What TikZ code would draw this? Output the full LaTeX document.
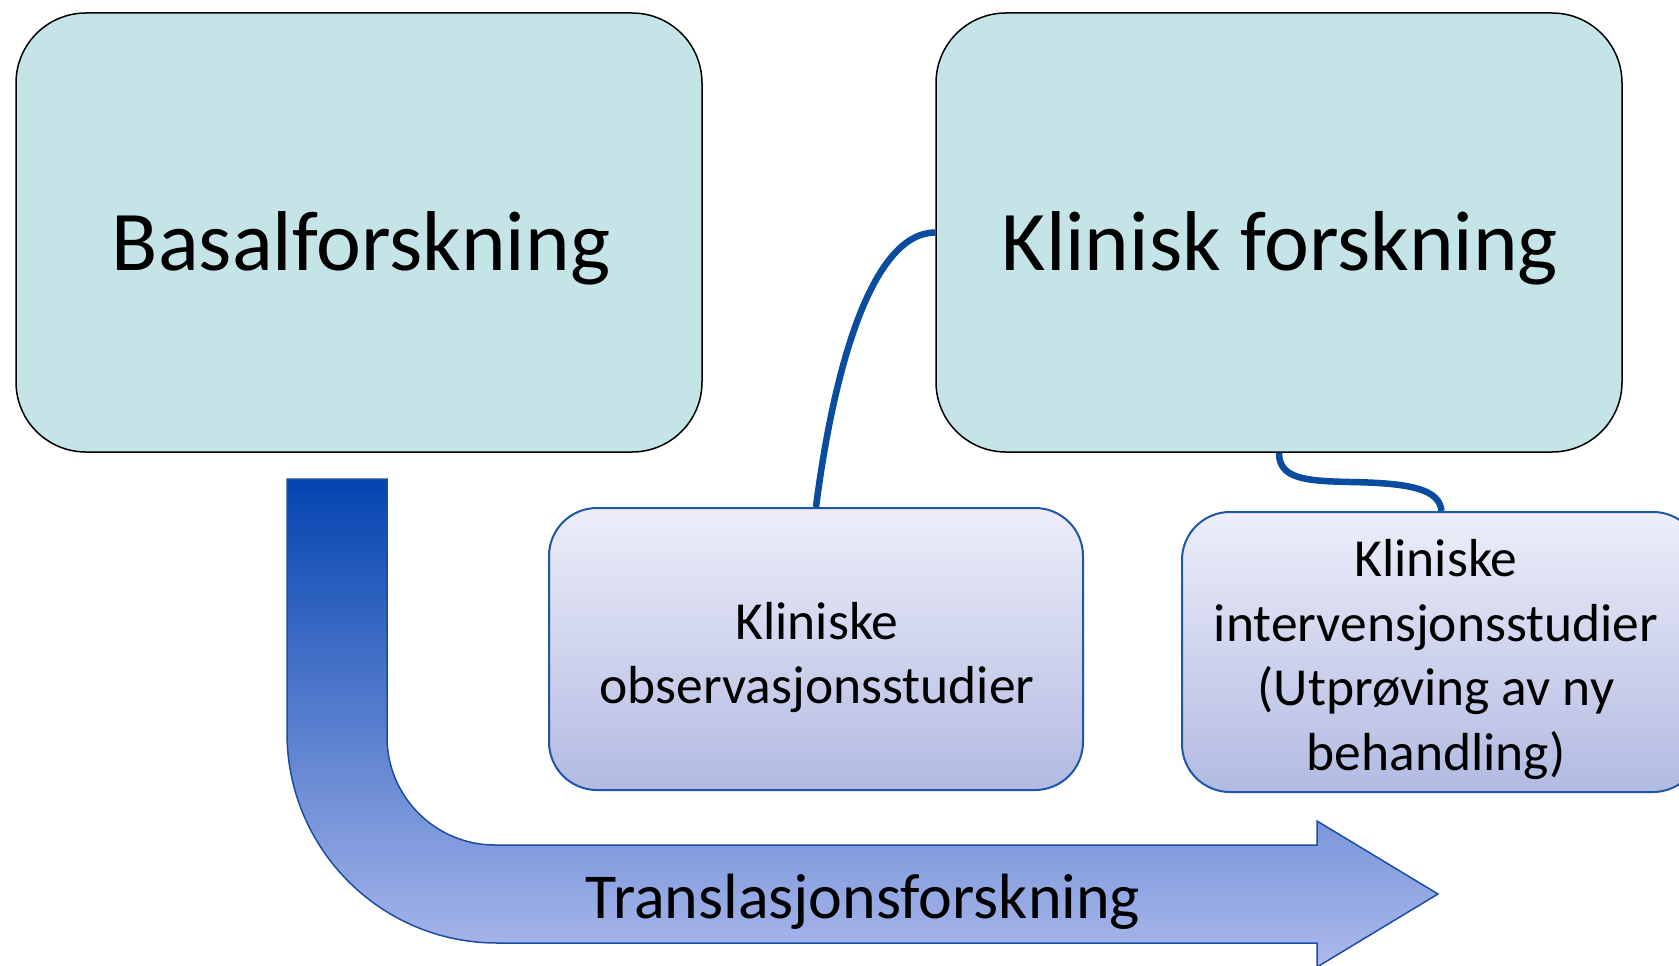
\documentclass[tikz,border=0pt]{standalone}
\usepackage{fontspec}
\setmainfont{Carlito}
\definecolor{boxfill}{RGB}{197,228,232}
\definecolor{linkblue}{RGB}{10,76,160}
\definecolor{smalledge}{RGB}{32,86,168}
\definecolor{smalltop}{RGB}{237,238,249}
\definecolor{smallbot}{RGB}{178,186,226}
\definecolor{arrtop}{RGB}{4,68,176}
\definecolor{arrbot}{RGB}{172,185,236}
\definecolor{arredge}{RGB}{28,78,160}
\begin{document}
\begin{tikzpicture}[x=1pt,y=-1pt,
 bigbox/.style={draw=black, line width=1.5pt, fill=boxfill, rounded corners=70pt, minimum width=686pt, minimum height=439pt, inner sep=0pt},
 smallbox/.style={draw=smalledge, line width=2pt, top color=smalltop, bottom color=smallbot, rounded corners=48pt, inner sep=0pt},
 bigtext/.style={font=\fontsize{85}{102}\selectfont, anchor=base, inner sep=0pt},
 smalltext/.style={font=\fontsize{53.5}{64.5}\selectfont, align=center, anchor=base, inner sep=0pt},
 arrowtext/.style={font=\fontsize{64}{77}\selectfont, anchor=base, inner sep=0pt},
 link/.style={draw=linkblue, line width=6.5pt},
 bentarrow/.style={draw=arredge, line width=1.5pt, top color=arrtop, bottom color=arrbot, line join=miter}
]
\clip (0,0) rectangle (1679,966);
\fill[white] (0,0) rectangle (1679,966);

% bent arrow
\path[bentarrow] (287,479) -- (387,479) -- (387,737)
  .. controls (387,796.6) and (435.4,845) .. (495,845)
  -- (1317,845) -- (1317,821) -- (1438,894) -- (1317,967) -- (1317,943)
  -- (497,943)
  .. controls (381,943) and (287,849) .. (287,733) -- cycle;
\node[arrowtext] (t5) at (863,918) {Translasjonsforskning};

% big boxes
\node[bigbox] (b1) at (359,232.5) {};
\node[bigbox] (b2) at (1279,232.5) {};
\node[bigtext] (t1) at (361,270) {Basalforskning};
\node[bigtext] (t2) at (1280,270) {Klinisk forskning};

% small boxes
\node[smallbox, minimum width=534pt, minimum height=282pt] (s1) at (816,649) {};
\node[smallbox, minimum width=519pt, minimum height=280pt] (s2) at (1441.5,652) {};
\node[smalltext] (t3) at (817,703.5) {Kliniske\\observasjonsstudier};
\node[smalltext] (t4) at (1436,770) {Kliniske\\intervensjonsstudier\\(Utprøving av ny\\behandling)};

% connectors
\coordinate (m2) at (1350,482);
\draw[link] (s1.north) .. controls +(19,-148) and +(-61,0) .. (b2.west);
\draw[link] (b2.south) .. controls +(0,26) and +(-45,-1) .. (m2) .. controls +(60,1) and +(-2,-22) .. (s2.north);
\end{tikzpicture}
\end{document}
